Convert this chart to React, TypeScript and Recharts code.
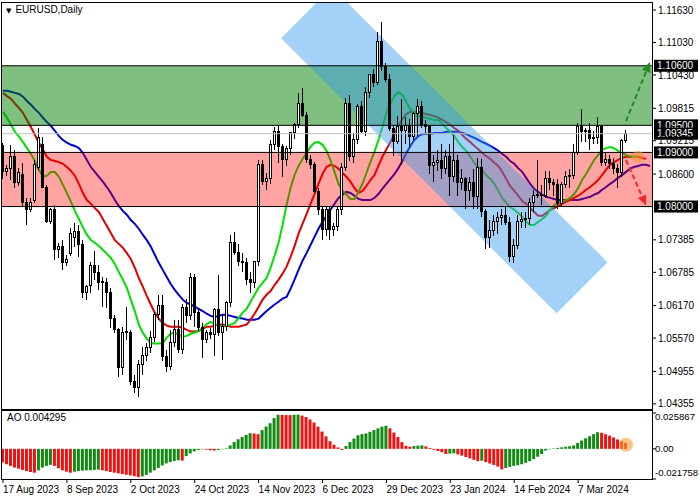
import React from "react";
import {
  ComposedChart,
  Bar,
  Line,
  XAxis,
  YAxis,
  ReferenceArea,
  ReferenceLine,
  ReferenceDot,
  Cell,
} from "recharts";

// x axis labels (bar index -> date)
const dateLabels = ["17 Aug 2023", "8 Sep 2023", "2 Oct 2023", "24 Oct 2023", "14 Nov 2023", "6 Dec 2023", "29 Dec 2023", "23 Jan 2024", "14 Feb 2024", "7 Mar 2024"];
const dateLabelBars = [0, 16, 32, 48, 64, 80, 96, 112, 128, 144];
const SLOTS = 163; // bars + empty space on the right (chart shift)

const priceTicks = [1.1163, 1.1103, 1.1043, 1.09815, 1.09215, 1.086, 1.07385, 1.06785, 1.0617, 1.0557, 1.04955, 1.04355];
const levels = [1.106, 1.095, 1.09, 1.08];
const currentPrice = 1.09345;
const buyZone = [1.095, 1.106];
const sellZone = [1.08, 1.09];
const channel = [{ bar: 76, price: 1.1158 }, { bar: 145, price: 1.065 }];
const upArrow = [{ bar: 156, price: 1.0958 }, { bar: 162, price: 1.1067 }];
const downArrow = [{ bar: 156, price: 1.0886 }, { bar: 161, price: 1.0802 }];
const aoTicks = [0.025867, 0, -0.021758];
const aoLast = 0.004295;

const opens = [
  1.0913, 1.0864, 1.087, 1.0892, 1.0845, 1.086, 1.0808, 1.0794, 1.0812, 1.0873,
  1.0914, 1.0836, 1.0772, 1.0794, 1.072, 1.0726, 1.0696, 1.0714, 1.0742, 1.0753,
  1.0729, 1.0642, 1.0655, 1.0691, 1.0678, 1.0659, 1.0659, 1.0642, 1.0594, 1.0572,
  1.0502, 1.0567, 1.0567, 1.0476, 1.0465, 1.0508, 1.0525, 1.054, 1.0559, 1.06,
  1.0618, 1.0523, 1.0504, 1.0548, 1.0572, 1.0535, 1.0613, 1.0598, 1.0668, 1.0604,
  1.0576, 1.0554, 1.0567, 1.0563, 1.0609, 1.0567, 1.0578, 1.0622, 1.0733, 1.0715,
  1.0698, 1.0696, 1.0665, 1.0659, 1.0698, 1.0877, 1.0846, 1.0851, 1.0914, 1.0938,
  1.091, 1.0886, 1.0907, 1.0936, 1.0951, 1.0991, 1.0969, 1.0886, 1.0877, 1.0827,
  1.0794, 1.0757, 1.0794, 1.0757, 1.0763, 1.0794, 1.0873, 1.0991, 1.0892, 1.0923,
  1.0984, 1.0938, 1.101, 1.1043, 1.103, 1.1104, 1.1058, 1.1034, 1.0945, 1.0921,
  1.0947, 1.0941, 1.095, 1.093, 1.0972, 1.0985, 1.0952, 1.0948, 1.0875, 1.0882,
  1.0885, 1.087, 1.0893, 1.0855, 1.0885, 1.0845, 1.0852, 1.083, 1.0845, 1.0818,
  1.0873, 1.079, 1.0742, 1.0755, 1.0772, 1.078, 1.0783, 1.077, 1.0708, 1.0728,
  1.0772, 1.0776, 1.0778, 1.0808, 1.082, 1.0822, 1.082, 1.0852, 1.0845, 1.084,
  1.0805, 1.084, 1.0855, 1.0858, 1.09, 1.0948, 1.0938, 1.094, 1.0925, 1.0928,
  1.0948, 1.0882, 1.0886, 1.088, 1.087, 1.0862, 1.0922,
];
const highs = [
  1.0918, 1.0877, 1.0914, 1.0905, 1.0871, 1.0881, 1.0816, 1.0816, 1.0886, 1.0945,
  1.0929, 1.084, 1.0797, 1.0803, 1.0733, 1.0739, 1.0711, 1.0761, 1.077, 1.0766,
  1.0739, 1.0655, 1.0698, 1.0717, 1.0692, 1.067, 1.0668, 1.065, 1.06, 1.0576,
  1.0578, 1.0615, 1.0572, 1.0489, 1.0517, 1.054, 1.0548, 1.057, 1.0605, 1.0637,
  1.0637, 1.0535, 1.0572, 1.0591, 1.0591, 1.062, 1.063, 1.0678, 1.0675, 1.0612,
  1.0585, 1.0572, 1.0575, 1.0612, 1.0674, 1.06, 1.0625, 1.0748, 1.0753, 1.073,
  1.0715, 1.0705, 1.068, 1.07, 1.0886, 1.0886, 1.0862, 1.0923, 1.0947, 1.095,
  1.0915, 1.0912, 1.0938, 1.0955, 1.101, 1.1019, 1.0975, 1.0895, 1.0882, 1.0835,
  1.08, 1.08, 1.08, 1.077, 1.08, 1.088, 1.1, 1.1006, 1.0935, 1.099,
  1.0995, 1.102, 1.1045, 1.1055, 1.1122, 1.1141, 1.1065, 1.1045, 1.095, 1.0968,
  1.0998, 1.0965, 1.0962, 1.0975, 1.0999, 1.0995, 1.096, 1.095, 1.0895, 1.0905,
  1.0915, 1.0905, 1.0915, 1.0932, 1.0895, 1.087, 1.0855, 1.0855, 1.087, 1.089,
  1.0888, 1.0795, 1.0775, 1.0785, 1.079, 1.0795, 1.08, 1.078, 1.074, 1.0785,
  1.079, 1.079, 1.0815, 1.083, 1.0886, 1.084, 1.0865, 1.0865, 1.085, 1.085,
  1.0845, 1.0865, 1.087, 1.0915, 1.0955, 1.0981, 1.0945, 1.0955, 1.094, 1.0965,
  1.095, 1.0898, 1.0895, 1.089, 1.0878, 1.0925, 1.0942,
];
const lows = [
  1.0851, 1.0857, 1.0849, 1.0834, 1.0838, 1.0799, 1.0766, 1.079, 1.0807, 1.0868,
  1.0834, 1.077, 1.0768, 1.0702, 1.0705, 1.0683, 1.069, 1.0709, 1.0726, 1.0707,
  1.0631, 1.0628, 1.0641, 1.0665, 1.0646, 1.0615, 1.0613, 1.0576, 1.0567, 1.0486,
  1.0489, 1.0554, 1.0471, 1.0456, 1.0449, 1.0489, 1.0515, 1.053, 1.055, 1.059,
  1.0515, 1.0495, 1.0498, 1.054, 1.053, 1.0528, 1.0585, 1.059, 1.0578, 1.057,
  1.052, 1.0548, 1.0555, 1.0523, 1.056, 1.0517, 1.057, 1.0615, 1.071, 1.069,
  1.068, 1.0655, 1.064, 1.065, 1.069, 1.084, 1.083, 1.0842, 1.0905, 1.0881,
  1.0855, 1.0875, 1.0895, 1.0925, 1.0945, 1.0965, 1.088, 1.087, 1.0825, 1.0785,
  1.0739, 1.0745, 1.0739, 1.0745, 1.0755, 1.0785, 1.0865, 1.0885, 1.088, 1.0915,
  1.0935, 1.093, 1.1, 1.102, 1.1025, 1.105, 1.103, 1.094, 1.0893, 1.0915,
  1.0877, 1.0915, 1.091, 1.0922, 1.093, 1.0945, 1.0935, 1.086, 1.0845, 1.0865,
  1.085, 1.086, 1.082, 1.0845, 1.082, 1.083, 1.0795, 1.081, 1.0795, 1.0795,
  1.078, 1.0722, 1.0723, 1.0745, 1.075, 1.0765, 1.0765, 1.0697, 1.0695, 1.0722,
  1.076, 1.076, 1.0765, 1.079, 1.0815, 1.0802, 1.0815, 1.083, 1.082, 1.0795,
  1.08, 1.0835, 1.0835, 1.085, 1.0895, 1.092, 1.092, 1.0905, 1.0915, 1.0915,
  1.0875, 1.0875, 1.087, 1.086, 1.0835, 1.0855, 1.0918,
];
const closes = [
  1.0864, 1.087, 1.0892, 1.0845, 1.0862, 1.0807, 1.0794, 1.0808, 1.0877, 1.0927,
  1.0836, 1.0772, 1.0794, 1.072, 1.0726, 1.0696, 1.0702, 1.0751, 1.0753, 1.0729,
  1.0642, 1.0652, 1.0692, 1.0678, 1.0659, 1.0661, 1.0642, 1.0594, 1.0572, 1.0502,
  1.0567, 1.0569, 1.0476, 1.0465, 1.0508, 1.0525, 1.054, 1.0559, 1.06, 1.0618,
  1.0523, 1.0504, 1.0548, 1.0572, 1.0535, 1.0613, 1.0598, 1.0668, 1.0604, 1.0576,
  1.0554, 1.0567, 1.0563, 1.0609, 1.0567, 1.0578, 1.0622, 1.0733, 1.0715, 1.0698,
  1.0696, 1.0665, 1.0659, 1.0698, 1.0877, 1.0846, 1.0851, 1.0914, 1.0938, 1.091,
  1.0886, 1.0907, 1.0936, 1.0951, 1.0991, 1.0969, 1.0886, 1.0877, 1.0827, 1.0794,
  1.0757, 1.0794, 1.0757, 1.0763, 1.0794, 1.0873, 1.0991, 1.0892, 1.0923, 1.0984,
  1.0938, 1.101, 1.1043, 1.103, 1.1104, 1.1058, 1.1034, 1.0945, 1.0921, 1.0947,
  1.0941, 1.095, 1.093, 1.0972, 1.0985, 1.0952, 1.0948, 1.0875, 1.0882, 1.0885,
  1.087, 1.0893, 1.0855, 1.0885, 1.0845, 1.0852, 1.083, 1.0845, 1.0818, 1.0873,
  1.079, 1.0742, 1.0755, 1.0772, 1.078, 1.0783, 1.077, 1.0708, 1.0728, 1.0772,
  1.0776, 1.0778, 1.0808, 1.082, 1.0822, 1.082, 1.0852, 1.0845, 1.084, 1.0805,
  1.084, 1.0855, 1.0858, 1.09, 1.0948, 1.0938, 1.094, 1.0925, 1.0928, 1.0948,
  1.0882, 1.0886, 1.088, 1.087, 1.0862, 1.0922, 1.09345,
];

// Alligator: jaw (blue), teeth (red), lips (green) — shifted forward
const jaw = [
  1.1014, 1.1014, 1.1012, 1.101, 1.1008, 1.1003, 1.0995, 1.0988, 1.098, 1.0973,
  1.0964, 1.0956, 1.0949, 1.094, 1.093, 1.0923, 1.0918, 1.0914, 1.0912, 1.0908,
  1.0899, 1.0886, 1.0873, 1.0864, 1.0855, 1.0846, 1.0836, 1.0825, 1.0812, 1.0801,
  1.0792, 1.0785, 1.0775, 1.0768, 1.0759, 1.0748, 1.0738, 1.0726, 1.0711, 1.0696,
  1.0683, 1.067, 1.0657, 1.0646, 1.0637, 1.0628, 1.0622, 1.0619, 1.0615, 1.0611,
  1.0607, 1.0602, 1.0598, 1.0596, 1.0598, 1.06, 1.06, 1.0598, 1.0596, 1.0594,
  1.0593, 1.0591, 1.0591, 1.0591, 1.0593, 1.06, 1.0607, 1.0613, 1.0619, 1.0624,
  1.063, 1.0633, 1.0648, 1.0665, 1.0683, 1.07, 1.0714, 1.0729, 1.0744, 1.0759,
  1.0772, 1.0783, 1.0794, 1.0805, 1.0816, 1.0822, 1.0827, 1.0825, 1.082, 1.0814,
  1.0812, 1.0812, 1.0812, 1.0816, 1.0823, 1.0833, 1.0842, 1.0851, 1.086, 1.0871,
  1.0884, 1.0899, 1.0912, 1.0923, 1.093, 1.0934, 1.0934, 1.0934, 1.0936, 1.0936,
  1.0936, 1.0938, 1.0938, 1.0938, 1.0938, 1.0936, 1.0934, 1.093, 1.0927, 1.0923,
  1.0919, 1.0916, 1.0912, 1.0908, 1.0903, 1.0897, 1.0892, 1.0884, 1.0879, 1.0871,
  1.0864, 1.0853, 1.0842, 1.0833, 1.0827, 1.0822, 1.0818, 1.0816, 1.0814, 1.0812,
  1.0812, 1.0812, 1.0812, 1.0812, 1.0812, 1.0814, 1.0816, 1.0818, 1.0822, 1.0825,
  1.0831, 1.0836, 1.0842, 1.0847, 1.0853, 1.0858, 1.0864, 1.087, 1.0873, 1.0875,
  1.0877, 1.0877, 1.0875,
];
const teeth = [
  1.101, 1.1004, 1.0999, 1.099, 1.0982, 1.0973, 1.096, 1.0947, 1.0932, 1.0918,
  1.0905, 1.0892, 1.0886, 1.0884, 1.0882, 1.0879, 1.0873, 1.0866, 1.0857, 1.0842,
  1.0825, 1.0812, 1.0805, 1.0797, 1.079, 1.0777, 1.0764, 1.0751, 1.0738, 1.0731,
  1.0724, 1.0714, 1.0703, 1.0687, 1.0668, 1.0652, 1.0635, 1.0619, 1.0604, 1.0593,
  1.0585, 1.058, 1.0578, 1.0578, 1.0578, 1.0576, 1.0572, 1.0569, 1.0569, 1.057,
  1.0574, 1.0578, 1.0578, 1.058, 1.0582, 1.0582, 1.058, 1.0578, 1.0578, 1.0578,
  1.058, 1.0582, 1.0591, 1.0602, 1.0615, 1.0628, 1.0637, 1.0644, 1.0655, 1.0665,
  1.0676, 1.0689, 1.0707, 1.0727, 1.075, 1.0768, 1.0786, 1.0805, 1.0823, 1.0842,
  1.086, 1.0873, 1.0877, 1.0875, 1.087, 1.0862, 1.0855, 1.0846, 1.0834, 1.0825,
  1.0829, 1.0838, 1.0849, 1.0858, 1.0875, 1.0892, 1.0906, 1.0919, 1.0934, 1.0949,
  1.0962, 1.0971, 1.0975, 1.0975, 1.0975, 1.0973, 1.0971, 1.0969, 1.0967, 1.0964,
  1.096, 1.0956, 1.0951, 1.0945, 1.094, 1.0932, 1.0925, 1.0919, 1.0912, 1.0906,
  1.0899, 1.0893, 1.0888, 1.0881, 1.0875, 1.0864, 1.0851, 1.0838, 1.0829, 1.082,
  1.081, 1.0805, 1.0797, 1.079, 1.0783, 1.0783, 1.0788, 1.0794, 1.0797, 1.0801,
  1.0805, 1.0809, 1.0812, 1.0816, 1.082, 1.0825, 1.0831, 1.0836, 1.0842, 1.0849,
  1.0858, 1.0868, 1.0877, 1.0882, 1.0886, 1.089, 1.0892, 1.0892, 1.0892, 1.0892,
  1.089, 1.0888,
];
const lips = [
  1.0975, 1.0964, 1.0951, 1.0938, 1.0929, 1.0919, 1.0908, 1.0897, 1.0884, 1.0868,
  1.0855, 1.0857, 1.0864, 1.0864, 1.0855, 1.084, 1.0825, 1.0809, 1.0792, 1.0777,
  1.0762, 1.0748, 1.0738, 1.0733, 1.0727, 1.072, 1.0713, 1.0705, 1.0694, 1.0679,
  1.0665, 1.065, 1.0628, 1.0607, 1.0582, 1.0567, 1.0556, 1.0548, 1.0547, 1.0547,
  1.0548, 1.0558, 1.0565, 1.0567, 1.0563, 1.0559, 1.0561, 1.0565, 1.0567, 1.057,
  1.0576, 1.0583, 1.0587, 1.0583, 1.058, 1.0578, 1.058, 1.0582, 1.0585, 1.0594,
  1.0604, 1.0611, 1.0624, 1.0637, 1.065, 1.0659, 1.0668, 1.0687, 1.0709, 1.0733,
  1.0766, 1.0803, 1.0834, 1.0858, 1.0875, 1.0888, 1.0899, 1.091, 1.0918, 1.0919,
  1.0914, 1.0903, 1.0886, 1.0864, 1.0842, 1.0829, 1.0822, 1.0814, 1.0814, 1.0827,
  1.0842, 1.0862, 1.0882, 1.0901, 1.0923, 1.0947, 1.0973, 1.0991, 1.1004, 1.1012,
  1.1006, 1.0993, 1.098, 1.0973, 1.0967, 1.0966, 1.0964, 1.0962, 1.096, 1.096,
  1.0953, 1.0945, 1.0938, 1.093, 1.0919, 1.091, 1.0903, 1.0892, 1.0881, 1.0873,
  1.0866, 1.0858, 1.0851, 1.0842, 1.0829, 1.0816, 1.0807, 1.0799, 1.0794, 1.0788,
  1.0781, 1.0772, 1.0766, 1.0766, 1.0772, 1.0777, 1.0783, 1.0794, 1.0803, 1.0807,
  1.0809, 1.0812, 1.0816, 1.0823, 1.0834, 1.0849, 1.086, 1.0873, 1.0886, 1.0895,
  1.0905, 1.0908, 1.091, 1.0908, 1.0903, 1.0899, 1.0895, 1.0892, 1.0892, 1.0892,
];

// Awesome Oscillator
const ao = [
  -0.0098, -0.0111, -0.0123, -0.0135, -0.0143, -0.0152, -0.016, -0.0167, -0.0172, -0.0155,
  -0.0135, -0.0123, -0.0116, -0.0123, -0.014, -0.0155, -0.0165, -0.0172, -0.0165, -0.016,
  -0.0157, -0.0155, -0.0154, -0.0152, -0.015, -0.0155, -0.016, -0.0167, -0.0172, -0.0177,
  -0.0182, -0.0187, -0.0192, -0.0197, -0.0204, -0.0199, -0.0188, -0.0172, -0.0155, -0.0138,
  -0.012, -0.0105, -0.0095, -0.0088, -0.0082, -0.0085, -0.0052, -0.0033, -0.0018, -0.0008,
  -0.0004, -0.0006, -0.001, -0.0012, -0.0008, -0.0003, 0.0004, 0.0025, 0.0049, 0.0069,
  0.0086, 0.0101, 0.0113, 0.0111, 0.0106, 0.0135, 0.016, 0.0185, 0.0222, 0.0246,
  0.0245, 0.0244, 0.0243, 0.0246, 0.0247, 0.024, 0.023, 0.0212, 0.019, 0.016,
  0.0125, 0.009, 0.0055, 0.003, 0.001, -0.0008, 0.002, 0.0049, 0.0074, 0.0098,
  0.0106, 0.0111, 0.0123, 0.0135, 0.0148, 0.016, 0.0167, 0.0148, 0.0118, 0.0086,
  0.0049, 0.0022, 0.0016, 0.002, 0.0023, 0.0025, 0.0018, 0.0006, -0.0007, -0.0015,
  -0.0024, -0.0037, -0.0034, -0.0032, -0.004, -0.0049, -0.0059, -0.0069, -0.0079, -0.0089,
  -0.0086, -0.0096, -0.0106, -0.0116, -0.0128, -0.0148, -0.0138, -0.013, -0.0123, -0.0118,
  -0.0111, -0.0101, -0.0089, -0.0074, -0.0057, -0.0037, -0.0012, -0.0003, 0.0003, 0.0007,
  0.0011, 0.0015, 0.0019, 0.0025, 0.0042, 0.006, 0.0076, 0.0091, 0.0106, 0.012,
  0.0116, 0.0106, 0.0095, 0.0082, 0.0068, 0.0055, 0.004295,
];

const rows = Array.from({ length: SLOTS }, (_, i) => ({
  i,
  open: opens[i] ?? null,
  high: highs[i] ?? null,
  low: lows[i] ?? null,
  close: closes[i] ?? null,
  range: opens[i] != null ? [lows[i], highs[i]] : null,
  jaw: jaw[i] ?? null,
  teeth: teeth[i] ?? null,
  lips: lips[i] ?? null,
  ao: ao[i] ?? null,
}));

const FONT = "'Liberation Sans', Arial, sans-serif";
const AO_UP = "#138a13";
const AO_DOWN = "#f01212";

const Candle = (props: any) => {
  const { x, y, width, height, payload } = props;
  if (!payload || payload.open == null || y == null) return <g />;
  const { open, close, high, low } = payload;
  const top = Math.min(y, y + height);
  const h = Math.abs(height);
  const span = high - low || 1e-9;
  const py = (v: number) => top + ((high - v) / span) * h;
  const cx = Math.floor(x + width / 2) + 0.5;
  const bTop = py(Math.max(open, close));
  const bBot = py(Math.min(open, close));
  const up = close >= open;
  return (
    <g shapeRendering="crispEdges">
      <line x1={cx} x2={cx} y1={top} y2={top + h} stroke="#000" strokeWidth={1} />
      <rect x={cx - 1} y={bTop} width={2} height={Math.max(bBot - bTop, 0.5)} fill={up ? "#fff" : "#000"} stroke="#000" strokeWidth={1} />
    </g>
  );
};

const PriceTag = (props: any) => {
  const { viewBox, text } = props;
  if (!viewBox) return null;
  const x = viewBox.x + viewBox.width + 2;
  const y = viewBox.y;
  return (
    <g>
      <rect x={x} y={y - 6} width={44} height={12} fill="#000" />
      <text x={x + 3} y={y} dy="0.355em" fill="#fff" fontSize={10} fontFamily={FONT}>
        {text}
      </text>
    </g>
  );
};

const Arrow = (props: any) => {
  const { x1, y1, x2, y2, stroke } = props;
  const a = Math.atan2(y2 - y1, x2 - x1);
  const hl = 10;
  const hw = 4.5;
  const bx = x2 - hl * Math.cos(a);
  const by = y2 - hl * Math.sin(a);
  const p1 = `${bx + hw * Math.sin(a)},${by - hw * Math.cos(a)}`;
  const p2 = `${bx - hw * Math.sin(a)},${by + hw * Math.cos(a)}`;
  return (
    <g>
      <line x1={x1} y1={y1} x2={bx} y2={by} stroke={stroke} strokeWidth={2} strokeDasharray="5 3" />
      <polygon points={`${x2},${y2} ${p1} ${p2}`} fill={stroke} />
    </g>
  );
};

const DateTick = (props: any) => {
  const { x, y, payload } = props;
  const k = dateLabelBars.indexOf(payload.value);
  if (k < 0) return null;
  return (
    <text x={x} y={y} dy={8} textAnchor="start" fontSize={10} fill="#000" fontFamily={FONT}>
      {dateLabels[k]}
    </text>
  );
};

const AoTick = (props: any) => {
  const { x, y, payload } = props;
  const v = payload.value;
  const shift = v > 0 ? 4 : v < 0 ? -6 : 0;
  return (
    <text x={x - 3} y={y + shift} dy="0.355em" textAnchor="start" fontSize={9.6} fill="#000" fontFamily={FONT}>
      {v === 0 ? "0.00" : v.toFixed(6)}
    </text>
  );
};

export default function App() {
  return (
    <div style={{ position: "absolute", left: 0, top: 0, width: 700, height: 500, background: "#fff", fontFamily: FONT, overflow: "hidden" }}>
      <div style={{ position: "absolute", left: 0, top: 0 }}>
        <ComposedChart width={700} height={410} data={rows} margin={{ top: 3, right: 0, bottom: 1, left: 1 }}>
          <XAxis dataKey="i" hide />
          <YAxis
            orientation="right"
            width={48}
            type="number"
            domain={[1.0426, 1.1176]}
            allowDataOverflow
            ticks={priceTicks}
            interval={0}
            tickFormatter={(v: number) => v.toFixed(5)}
            tick={{ fontSize: 10, fill: "#000" }}
            tickSize={4}
            tickLine={{ stroke: "#000" }}
            axisLine={false}
          />
          <Line dataKey="jaw" stroke="#0000cd" strokeWidth={2} dot={false} isAnimationActive={false} zIndex={100} />
          <Line dataKey="teeth" stroke="#e00000" strokeWidth={2} dot={false} isAnimationActive={false} zIndex={100} />
          <Line dataKey="lips" stroke="#00e000" strokeWidth={2} dot={false} isAnimationActive={false} zIndex={100} />
          <ReferenceArea y1={buyZone[0]} y2={buyZone[1]} fill="#008000" fillOpacity={0.5} stroke="none" zIndex={200} />
          <ReferenceArea y1={sellZone[0]} y2={sellZone[1]} fill="#ff0000" fillOpacity={0.36} stroke="none" zIndex={200} />
          <ReferenceLine
            segment={[{ x: channel[0].bar, y: channel[0].price }, { x: channel[1].bar, y: channel[1].price }]}
            stroke="#3399ee"
            strokeOpacity={0.45}
            strokeWidth={72}
            strokeLinecap="butt"
            ifOverflow="hidden"
            zIndex={250}
          />
          <Bar dataKey="range" barSize={3} shape={(p: any) => <Candle {...p} />} isAnimationActive={false} zIndex={300} />
          <ReferenceLine y={currentPrice} stroke="#c0c0c0" strokeWidth={1} zIndex={400} />
          {levels.map((lv) => (
            <ReferenceLine key={lv} y={lv} stroke="#000" strokeWidth={1} zIndex={400} label={<PriceTag text={lv.toFixed(5)} />} />
          ))}
          <ReferenceLine y={currentPrice} stroke="none" zIndex={410} label={<PriceTag text={currentPrice.toFixed(5)} />} />
          <ReferenceLine
            segment={[{ x: upArrow[0].bar, y: upArrow[0].price }, { x: upArrow[1].bar, y: upArrow[1].price }]}
            stroke="#1f8a1f"
            shape={(p: any) => <Arrow {...p} stroke="#1f8a1f" />}
            ifOverflow="visible"
            zIndex={450}
          />
          <ReferenceLine
            segment={[{ x: downArrow[0].bar, y: downArrow[0].price }, { x: downArrow[1].bar, y: downArrow[1].price }]}
            stroke="#ee2a2a"
            shape={(p: any) => <Arrow {...p} stroke="#ee2a2a" />}
            ifOverflow="visible"
            zIndex={450}
          />
          <ReferenceDot x={159} y={teeth[159]} r={6} fill="#ff9933" fillOpacity={0.55} stroke="none" zIndex={460} />
        </ComposedChart>
      </div>

      <div style={{ position: "absolute", left: 0, top: 410 }}>
        <ComposedChart width={700} height={90} data={rows} margin={{ top: 3, right: 0, bottom: 0, left: 1 }}>
          <XAxis
            dataKey="i"
            ticks={dateLabelBars}
            interval={0}
            height={21}
            tickSize={4}
            tickLine={{ stroke: "#000" }}
            axisLine={false}
            tick={<DateTick />}
          />
          <YAxis
            orientation="right"
            width={48}
            type="number"
            domain={[aoTicks[2], aoTicks[0]]}
            allowDataOverflow
            ticks={aoTicks}
            interval={0}
            tick={<AoTick />}
            tickSize={4}
            tickLine={{ stroke: "#000" }}
            axisLine={false}
          />
          <Bar dataKey="ao" barSize={3} isAnimationActive={false}>
            {rows.map((r, k) => (
              <Cell key={k} fill={k > 0 && r.ao != null && ao[k - 1] != null && r.ao > ao[k - 1] ? AO_UP : AO_DOWN} />
            ))}
          </Bar>
          <ReferenceDot x={156} y={0.003} r={7} fill="#ff9933" fillOpacity={0.6} stroke="none" />
        </ComposedChart>
      </div>

      {/* panel frames */}
      <div style={{ position: "absolute", left: 1, top: 2, width: 652, height: 408, border: "1px solid #000", boxSizing: "border-box", pointerEvents: "none" }} />
      <div style={{ position: "absolute", left: 1, top: 410, width: 652, height: 70, border: "1px solid #000", boxSizing: "border-box", pointerEvents: "none" }} />

      <div style={{ position: "absolute", left: 6, top: 4, fontSize: 10, color: "#000", whiteSpace: "nowrap" }}>
        <span style={{ fontSize: 7, marginRight: 4, fontFamily: "'DejaVu Sans'" }}>▼</span>EURUSD,Daily
      </div>
      <div style={{ position: "absolute", left: 7, top: 412, fontSize: 10, color: "#000", whiteSpace: "nowrap" }}>
        AO {aoLast.toFixed(6)}
      </div>
    </div>
  );
}
